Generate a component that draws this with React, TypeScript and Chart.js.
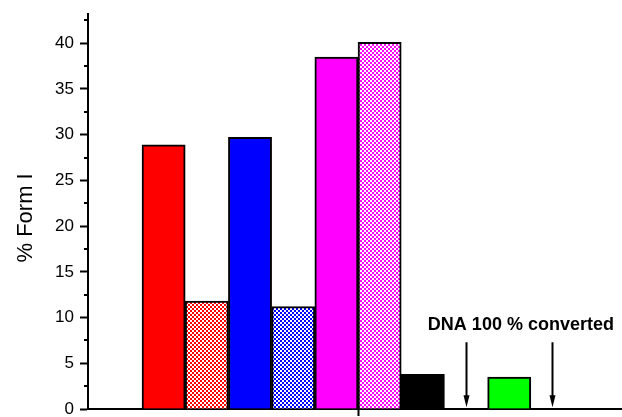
import { useEffect, useRef } from 'react';
import { Chart, registerables } from 'chart.js';

Chart.register(...registerables);

// ---- data ----
const categories = ['Red', 'Red (hatched)', 'Blue', 'Blue (hatched)', 'Magenta', 'Magenta (hatched)', 'Black', 'DNA converted 1', 'Green', 'DNA converted 2'];
const values: (number | null)[] = [28.9, 11.8, 29.7, 11.2, 38.5, 40.1, 3.8, null, 3.5, null];
const barColors = ['#FF0000', '#FF0000', '#0000FF', '#0000FF', '#FF00FF', '#FF00FF', '#000000', '#FFFFFF', '#00FF00', '#FFFFFF'];
const hatched = [false, true, false, true, false, true, false, false, false, false];
const yMajorTicks = [0, 5, 10, 15, 20, 25, 30, 35, 40];
const yMinorTicks = [2.5, 7.5, 12.5, 17.5, 22.5, 27.5, 32.5, 37.5, 42.5];
const arrowSlots = [7, 9];
const arrowTop = 7.3;
const arrowBottom = 0.2;
const annotationText = 'DNA 100 % converted';
const annotationX = 8.27;
const annotationY = 9.2;
const yTitle = '% Form I';
const yTitleAt = 20.9;

const FONT = "Arial, 'Liberation Sans', sans-serif";

function makePattern(color: string): CanvasPattern | string {
  const c = document.createElement('canvas');
  c.width = 4;
  c.height = 4;
  const ctx = c.getContext('2d');
  if (!ctx) return color;
  ctx.fillStyle = '#FFFFFF';
  ctx.fillRect(0, 0, 4, 4);
  ctx.fillStyle = color;
  ctx.fillRect(0, 0, 2, 2);
  ctx.fillRect(2, 2, 2, 2);
  const p = ctx.createPattern(c, 'repeat');
  return p || color;
}

const extrasPlugin = {
  id: 'extras',
  afterDraw(chart: any) {
    const ctx = chart.ctx as CanvasRenderingContext2D;
    const xs = chart.scales.x;
    const ys = chart.scales.y;
    ctx.save();
    // minor ticks on y axis
    ctx.strokeStyle = '#000';
    ctx.lineWidth = 2;
    const left = chart.chartArea.left;
    yMinorTicks.forEach((v) => {
      const y = Math.round(ys.getPixelForValue(v));
      ctx.beginPath();
      ctx.moveTo(left - 4, y);
      ctx.lineTo(left, y);
      ctx.stroke();
    });
    // arrows
    arrowSlots.forEach((s) => {
      const x = Math.round(xs.getPixelForValue(s)) + 0.5;
      const yTop = ys.getPixelForValue(arrowTop);
      const yBot = ys.getPixelForValue(arrowBottom);
      ctx.strokeStyle = '#000';
      ctx.lineWidth = 2;
      ctx.beginPath();
      ctx.moveTo(x, yTop);
      ctx.lineTo(x, yBot - 8);
      ctx.stroke();
      ctx.fillStyle = '#000';
      ctx.beginPath();
      ctx.moveTo(x - 3, yBot - 12);
      ctx.lineTo(x + 3, yBot - 12);
      ctx.lineTo(x, yBot);
      ctx.closePath();
      ctx.fill();
    });
    // annotation text
    ctx.fillStyle = '#000';
    ctx.font = `bold 18px ${FONT}`;
    ctx.textAlign = 'center';
    ctx.textBaseline = 'middle';
    ctx.fillText(annotationText, xs.getPixelForValue(annotationX), ys.getPixelForValue(annotationY));
    // y axis title
    ctx.font = `22px ${FONT}`;
    ctx.translate(25.5, ys.getPixelForValue(yTitleAt));
    ctx.rotate(-Math.PI / 2);
    ctx.fillText(yTitle, 0, 0);
    ctx.restore();
  },
};

export default function App() {
  const ref = useRef<HTMLCanvasElement | null>(null);

  useEffect(() => {
    if (!ref.current) return;
    const fills = barColors.map((c, i) => (hatched[i] ? makePattern(c) : c));
    const chart = new Chart(ref.current, {
      type: 'bar',
      data: {
        labels: categories,
        datasets: [
          {
            label: yTitle,
            data: values.map((v, i) => ({ x: i, y: v })) as any,
            backgroundColor: fills as any,
            borderColor: '#000000',
            borderWidth: 2,
            borderSkipped: 'start',
            barPercentage: 1,
            categoryPercentage: 1,
          },
        ],
      },
      options: {
        responsive: false,
        animation: false,
        events: [],
        layout: { padding: { top: 14, left: 0, right: 0, bottom: 0 } },
        plugins: {
          legend: { display: false },
          tooltip: { enabled: false },
          title: { display: false },
        },
        scales: {
          x: {
            type: 'linear',
            min: -1.75,
            max: 10.61,
            offset: false,
            afterBuildTicks: (s: any) => {
              s.ticks = [{ value: 4.5 }];
            },
            afterFit: (s: any) => {
              s.height = 8;
              s.paddingLeft = 0;
              s.paddingRight = 0;
            },
            ticks: { display: false },
            grid: {
              offset: false,
              drawOnChartArea: false,
              drawTicks: true,
              tickLength: 7,
              tickWidth: 2,
              tickColor: '#000',
            },
            border: { display: true, color: '#000', width: 2 },
          },
          y: {
            type: 'linear',
            min: 0,
            max: 43.2,
            afterBuildTicks: (s: any) => {
              s.ticks = yMajorTicks.map((v) => ({ value: v }));
            },
            afterFit: (s: any) => {
              s.width = 88;
              s.paddingTop = 0;
              s.paddingBottom = 0;
            },
            ticks: {
              color: '#000',
              font: { family: FONT, size: 17 },
              padding: 6,
              callback: (v: any) => String(v),
            },
            grid: {
              drawOnChartArea: false,
              drawTicks: true,
              tickLength: 8,
              tickWidth: 2,
              tickColor: '#000',
            },
            border: { display: true, color: '#000', width: 2 },
            title: { display: false },
          },
        },
      },
      plugins: [extrasPlugin],
    });
    return () => chart.destroy();
  }, []);

  return (
    <div style={{ position: 'absolute', left: 0, top: 0, width: 622, height: 417, overflow: 'hidden', background: '#fff' }}>
      <canvas ref={ref} width={622} height={417} style={{ display: 'block' }} />
    </div>
  );
}
